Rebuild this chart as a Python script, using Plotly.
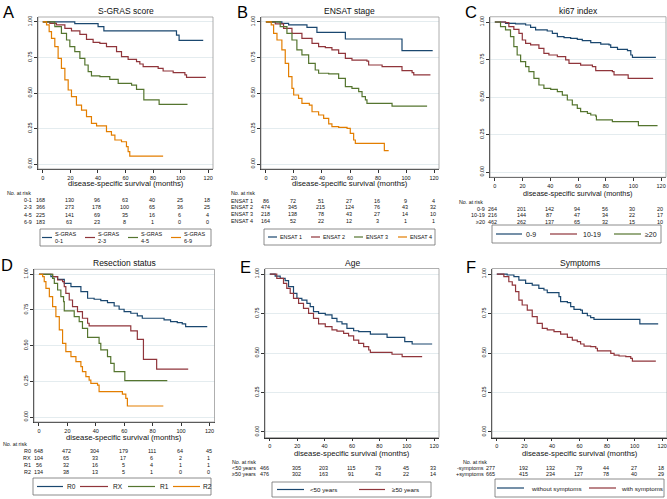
import plotly.graph_objects as go

W, H = 667, 499
FONT = 'Liberation Sans, Arial, sans-serif'
COLORS = ['#1a476f', '#90353b', '#55752f', '#e37e00']

months = [0, 20, 40, 60, 80, 100, 120]
surv_ticks = [0, 0.25, 0.5, 0.75, 1.0]
surv_ticktext = ['0.00', '0.25', '0.50', '0.75', '1.00']

# ---- A: S-GRAS score
a_01_t = [0, 23.2, 40.1, 44.3, 97.0, 98.9, 116.4]
a_01_s = [1.0, 0.988, 0.967, 0.937, 0.908, 0.871, 0.871]
a_23_t = [0, 5.1, 9.9, 16.0, 20.8, 26.9, 31.7, 36.5, 41.4, 46.2, 53.5, 57.1, 61.9, 68.0, 70.4, 72.8, 83.7, 87.3, 94.6, 103.1, 104.3, 118.3]
a_23_s = [1.0, 0.990, 0.979, 0.955, 0.937, 0.913, 0.878, 0.857, 0.850, 0.826, 0.791, 0.756, 0.737, 0.721, 0.704, 0.685, 0.674, 0.655, 0.643, 0.627, 0.610, 0.610]
a_45_t = [0, 8.7, 13.5, 17.2, 19.6, 23.2, 26.9, 30.5, 32.9, 35.3, 41.4, 48.6, 54.7, 64.4, 68.0, 73.3, 84.4, 105.0]
a_45_s = [1.0, 0.967, 0.920, 0.873, 0.826, 0.791, 0.744, 0.697, 0.650, 0.620, 0.615, 0.596, 0.568, 0.556, 0.526, 0.451, 0.420, 0.420]
a_69_t = [0, 2.7, 4.6, 6.3, 8.7, 11.1, 13.5, 16.0, 18.4, 20.8, 24.4, 28.1, 31.7, 35.3, 39.0, 46.2, 49.8, 52.3, 57.1, 60.7, 61.9, 63.1, 87.3]
a_69_s = [1.0, 0.979, 0.932, 0.885, 0.826, 0.744, 0.674, 0.592, 0.521, 0.474, 0.415, 0.380, 0.333, 0.286, 0.268, 0.228, 0.204, 0.169, 0.157, 0.122, 0.087, 0.056, 0.056]
a_labels = ['0-1', '2-3', '4-5', '6-9']
a_legend = ['S-GRAS<br>0-1', 'S-GRAS<br>2-3', 'S-GRAS<br>4-5', 'S-GRAS<br>6-9']
a_risk = [[168, 130, 96, 63, 40, 25, 18],
          [366, 273, 178, 100, 65, 36, 25],
          [225, 141, 69, 35, 16, 6, 4],
          [183, 63, 23, 8, 1, 0, 0]]

# ---- B: ENSAT stage
b_1_t = [0, 11.4, 16.2, 29.3, 36.4, 56.7, 97.1, 119.0]
b_1_s = [1.0, 0.990, 0.979, 0.962, 0.927, 0.880, 0.798, 0.798]
b_2_t = [0, 6.7, 12.6, 18.6, 25.7, 32.9, 37.6, 42.4, 47.1, 51.9, 56.7, 61.4, 72.1, 73.3, 82.9, 97.1, 104.3, 105.5, 117.4]
b_2_s = [1.0, 0.986, 0.955, 0.920, 0.885, 0.850, 0.826, 0.819, 0.803, 0.779, 0.744, 0.732, 0.725, 0.697, 0.685, 0.657, 0.643, 0.627, 0.627]
b_3_t = [0, 10.2, 15.0, 18.6, 22.1, 25.7, 30.5, 35.2, 37.6, 44.8, 51.9, 56.7, 61.4, 66.2, 68.6, 71.0, 72.1, 90.0, 115.0]
b_3_s = [1.0, 0.967, 0.920, 0.873, 0.803, 0.768, 0.709, 0.662, 0.639, 0.634, 0.603, 0.545, 0.533, 0.509, 0.474, 0.451, 0.427, 0.408, 0.408]
b_4_t = [0, 3.8, 5.5, 7.9, 11.4, 13.8, 16.2, 18.6, 19.8, 23.3, 25.7, 31.0, 32.9, 37.6, 41.2, 44.8, 47.1, 51.9, 57.9, 60.2, 62.6, 63.8, 84.5, 87.6]
b_4_s = [1.0, 0.979, 0.920, 0.873, 0.803, 0.709, 0.615, 0.533, 0.486, 0.462, 0.427, 0.415, 0.368, 0.345, 0.322, 0.282, 0.263, 0.258, 0.251, 0.216, 0.169, 0.145, 0.094, 0.094]
b_labels = ['ENSAT 1', 'ENSAT 2', 'ENSAT 3', 'ENSAT 4']
b_risk = [[86, 72, 51, 27, 16, 9, 4],
          [474, 345, 215, 124, 76, 43, 32],
          [218, 138, 78, 43, 27, 14, 10],
          [164, 52, 22, 12, 3, 1, 1]]

# ---- C: ki67 index
c_09_t = [0, 7.7, 14.9, 22.2, 25.8, 29.4, 37.8, 41.5, 45.1, 49.9, 54.7, 59.5, 63.1, 69.2, 76.4, 82.4, 83.6, 88.5, 95.7, 98.1, 99.3, 116.2]
c_09_s = [1.0, 0.991, 0.987, 0.980, 0.964, 0.947, 0.940, 0.924, 0.902, 0.896, 0.891, 0.884, 0.876, 0.862, 0.853, 0.847, 0.831, 0.818, 0.809, 0.780, 0.764, 0.764]
c_1019_t = [0, 7.7, 10.1, 13.7, 17.4, 19.8, 22.2, 25.8, 31.8, 35.4, 39.0, 45.1, 51.1, 53.5, 61.9, 70.4, 72.8, 84.8, 86.0, 96.2, 114.2]
c_1019_s = [1.0, 0.996, 0.969, 0.951, 0.924, 0.880, 0.858, 0.847, 0.824, 0.791, 0.780, 0.769, 0.747, 0.724, 0.713, 0.702, 0.676, 0.669, 0.647, 0.624, 0.624]
c_20_t = [0, 4.1, 7.7, 11.3, 13.7, 16.1, 18.6, 22.2, 24.6, 28.2, 31.8, 35.4, 40.3, 45.1, 48.7, 52.3, 55.9, 59.5, 61.9, 66.8, 69.2, 72.8, 73.3, 84.8, 103.6, 117.4]
c_20_s = [1.0, 0.969, 0.947, 0.902, 0.836, 0.780, 0.736, 0.702, 0.669, 0.624, 0.580, 0.558, 0.551, 0.536, 0.513, 0.480, 0.447, 0.424, 0.402, 0.391, 0.380, 0.373, 0.347, 0.336, 0.309, 0.309]
c_labels = ['0-9', '10-19', '≥20']
c_risk = [[264, 201, 142, 94, 56, 30, 20],
          [216, 144, 87, 47, 34, 22, 17],
          [462, 262, 137, 65, 32, 15, 10]]

# ---- D: Resection status
d_r0_t = [0, 8.4, 13.1, 17.8, 22.5, 29.5, 34.2, 38.8, 43.5, 48.2, 52.9, 56.4, 59.9, 64.6, 69.2, 72.7, 88.0, 92.6, 97.3, 100.8, 103.2, 118.4]
d_r0_s = [1.0, 0.984, 0.965, 0.937, 0.914, 0.879, 0.832, 0.825, 0.815, 0.801, 0.778, 0.755, 0.738, 0.727, 0.708, 0.692, 0.680, 0.668, 0.661, 0.652, 0.633, 0.633]
d_rx_t = [0, 9.6, 13.1, 16.6, 17.8, 18.9, 21.3, 23.6, 27.1, 30.6, 34.2, 35.3, 64.6, 69.2, 73.5, 82.8, 105.0]
d_rx_s = [1.0, 0.984, 0.960, 0.949, 0.914, 0.867, 0.820, 0.773, 0.738, 0.692, 0.657, 0.638, 0.603, 0.544, 0.404, 0.336, 0.336]
d_r1_t = [0, 9.6, 10.8, 13.1, 15.4, 17.3, 17.8, 24.8, 28.3, 30.6, 34.2, 42.3, 43.5, 48.2, 50.5, 52.9, 60.4, 90.3]
d_r1_s = [1.0, 0.972, 0.937, 0.890, 0.843, 0.808, 0.743, 0.703, 0.668, 0.621, 0.558, 0.516, 0.470, 0.423, 0.376, 0.318, 0.255, 0.255]
d_r2_t = [0, 2.6, 3.7, 4.9, 7.3, 9.6, 11.9, 14.3, 16.6, 18.9, 22.5, 26.0, 29.5, 30.6, 33.0, 35.3, 36.5, 41.2, 42.3, 58.7, 61.1, 62.2, 87.5]
d_r2_s = [1.0, 0.984, 0.949, 0.902, 0.843, 0.773, 0.703, 0.610, 0.516, 0.458, 0.423, 0.388, 0.353, 0.318, 0.283, 0.259, 0.236, 0.224, 0.178, 0.161, 0.131, 0.077, 0.077]
d_labels = ['R0', 'RX', 'R1', 'R2']
d_risk = [[648, 472, 304, 179, 111, 64, 45],
          [104, 65, 33, 17, 6, 2, 1],
          [56, 32, 16, 5, 4, 1, 1],
          [134, 38, 13, 5, 1, 0, 0]]

# ---- E: Age
e_lt50_t = [0, 3.9, 7.6, 11.2, 13.7, 17.3, 19.8, 23.4, 27.1, 29.5, 31.9, 35.6, 40.5, 45.4, 49.0, 52.7, 56.3, 61.2, 64.9, 73.4, 85.6, 98.5, 103.9, 118.5]
e_lt50_s = [1.0, 0.987, 0.973, 0.958, 0.920, 0.878, 0.846, 0.835, 0.814, 0.793, 0.762, 0.751, 0.741, 0.719, 0.698, 0.684, 0.656, 0.641, 0.635, 0.620, 0.599, 0.572, 0.557, 0.557]
e_ge50_t = [0, 5.1, 10.0, 12.4, 14.9, 17.3, 21.0, 24.6, 28.3, 31.9, 35.6, 40.5, 45.4, 49.0, 53.9, 57.5, 61.2, 64.9, 68.5, 72.2, 73.4, 89.2, 96.6, 111.2]
e_ge50_s = [1.0, 0.973, 0.941, 0.909, 0.878, 0.846, 0.814, 0.783, 0.751, 0.719, 0.684, 0.667, 0.646, 0.639, 0.624, 0.608, 0.582, 0.561, 0.540, 0.519, 0.504, 0.492, 0.477, 0.477]
e_labels = ['&lt;50 years', '≥50 years']
e_risk = [[466, 305, 203, 115, 79, 45, 33],
          [476, 302, 163, 91, 43, 22, 14]]

# ---- F: Symptoms
f_wo_t = [0, 7.5, 12.4, 16.0, 20.9, 25.7, 30.5, 34.2, 36.6, 45.1, 46.3, 51.2, 53.6, 56.0, 60.8, 62.1, 65.7, 68.1, 70.5, 103.8, 117.1]
f_wo_s = [1.0, 0.994, 0.983, 0.962, 0.941, 0.930, 0.909, 0.899, 0.882, 0.857, 0.825, 0.819, 0.793, 0.776, 0.772, 0.751, 0.736, 0.724, 0.713, 0.684, 0.684]
f_w_t = [0, 5.1, 8.7, 11.2, 13.6, 16.0, 18.4, 22.1, 25.7, 29.3, 33.0, 36.6, 41.5, 46.3, 51.2, 54.8, 58.4, 60.8, 63.3, 68.1, 71.8, 73.0, 82.7, 85.1, 88.7, 93.6, 97.2, 98.4, 115.4]
f_w_s = [1.0, 0.983, 0.951, 0.930, 0.888, 0.835, 0.804, 0.772, 0.730, 0.688, 0.656, 0.646, 0.635, 0.620, 0.599, 0.582, 0.572, 0.557, 0.544, 0.540, 0.530, 0.513, 0.498, 0.487, 0.481, 0.477, 0.466, 0.449, 0.449]
f_labels = ['-symptoms', '+symptoms']
f_legend = ['without symptoms', 'with symptoms']
f_risk = [[277, 192, 132, 79, 44, 27, 18],
          [665, 415, 234, 127, 78, 40, 29]]

# layout of each panel, in pixels
panels = [
    dict(letter='A', title='S-GRAS score', frame=(38, 17, 213, 169), letter_xy=(8, 12), title_y=11,
         curves=[(a_01_t, a_01_s), (a_23_t, a_23_s), (a_45_t, a_45_s), (a_69_t, a_69_s)],
         labels=a_labels, risk=a_risk, legend=a_legend, axtitle_y=184, axtitle_size=7.7,
         nrisk=(5, 193), rows_y=[200, 207, 214.5, 222], label_right=34, shift0=-2,
         box=(40, 229, 211, 246), items=[(42, 52, 54), (85, 95, 97), (128, 138, 140), (171, 181, 183)], legend_size=5.5),
    dict(letter='B', title='ENSAT stage', frame=(261, 17, 439, 169), letter_xy=(242, 12), title_y=11,
         curves=[(b_1_t, b_1_s), (b_2_t, b_2_s), (b_3_t, b_3_s), (b_4_t, b_4_s)],
         labels=b_labels, risk=b_risk, legend=b_labels, axtitle_y=184, axtitle_size=7.7,
         nrisk=(229, 193), rows_y=[200.5, 207, 214, 221.5], label_right=255, shift0=0,
         box=(264, 229, 435, 245), items=[(268, 277, 279), (311, 320, 322), (354, 363, 365), (398, 407, 409)], legend_size=5.4),
    dict(letter='C', title='ki67 index', frame=(490, 16.75, 666, 177.25), letter_xy=(471, 12), title_y=11,
         curves=[(c_09_t, c_09_s), (c_1019_t, c_1019_s), (c_20_t, c_20_s)],
         labels=c_labels, risk=c_risk, legend=c_labels, axtitle_y=193, axtitle_size=7.3,
         nrisk=(457, 202), rows_y=[208.5, 215, 222], label_right=487, shift0=-2,
         box=(492, 225, 661, 243), items=[(496, 522, 525), (550, 577, 582), (614, 641, 644)], legend_size=7),
    dict(letter='D', title='Resection status', frame=(34, 269.3, 214.5, 422), letter_xy=(7, 265), title_y=263,
         curves=[(d_r0_t, d_r0_s), (d_rx_t, d_rx_s), (d_r1_t, d_r1_s), (d_r2_t, d_r2_s)],
         labels=d_labels, risk=d_risk, legend=d_labels, axtitle_y=437, axtitle_size=7.7,
         nrisk=(1, 443.5), rows_y=[451, 457.5, 464.5, 471.5], label_right=33, shift0=0,
         box=(33, 478, 211, 495), items=[(37, 63, 66), (80, 108, 112), (128, 155, 159), (173, 200, 202)], legend_size=6.6),
    dict(letter='E', title='Age', frame=(265, 268.5, 439, 437.5), letter_xy=(245, 267), title_y=263,
         curves=[(e_lt50_t, e_lt50_s), (e_ge50_t, e_ge50_s)],
         labels=e_labels, risk=e_risk, legend=e_labels, axtitle_y=453, axtitle_size=7.7,
         nrisk=(230, 461.5), rows_y=[467.5, 473.5], label_right=258, shift0=-5,
         box=(272, 482, 431, 497), items=[(277, 304, 309), (359, 385, 391)], legend_size=6.2),
    dict(letter='F', title='Symptoms', frame=(492, 268.5, 667, 437.5), letter_xy=(471, 267), title_y=263,
         curves=[(f_wo_t, f_wo_s), (f_w_t, f_w_s)],
         labels=f_labels, risk=f_risk, legend=f_legend, axtitle_y=453, axtitle_size=7.7,
         nrisk=(461, 461.5), rows_y=[467.5, 473.5], label_right=486, shift0=-6,
         box=(495, 479, 664, 497), items=[(497, 524, 530), (589, 616, 620)], legend_size=6.2),
]


def px(x):
    return x / W


def py(y):
    return 1 - y / H


fig = go.Figure()
axes = {}
annotations = []
shapes = []
TXT = '#111111'
SMALL = 5.5

for i, p in enumerate(panels, start=1):
    xa = 'x' if i == 1 else f'x{i}'
    ya = 'y' if i == 1 else f'y{i}'
    x0, y0, x1, y1 = p['frame']
    axes['xaxis' if i == 1 else f'xaxis{i}'] = dict(
        domain=[px(x0), px(x1)], anchor=ya, range=[-3.5, 123.5],
        tickvals=months, ticks='outside', ticklen=3, tickwidth=0.8, tickcolor='#333',
        showline=True, linecolor='#333', linewidth=0.8, showgrid=False, zeroline=False,
        tickfont=dict(family=FONT, size=SMALL, color=TXT), fixedrange=True)
    axes['yaxis' if i == 1 else f'yaxis{i}'] = dict(
        domain=[py(y1), py(y0)], anchor=xa, range=[-0.035, 1.035],
        tickvals=surv_ticks, ticktext=surv_ticktext, tickangle=-90,
        ticks='outside', ticklen=3, tickwidth=0.8, tickcolor='#333',
        showline=True, linecolor='#333', linewidth=0.8,
        showgrid=True, gridcolor='#e4ecef', gridwidth=1, zeroline=False,
        tickfont=dict(family=FONT, size=SMALL, color=TXT), fixedrange=True)

    for (t, s), c in zip(p['curves'], COLORS):
        fig.add_trace(go.Scatter(x=t, y=s, mode='lines', xaxis=xa, yaxis=ya,
                                 line=dict(color=c, width=1.2, shape='hv'),
                                 showlegend=False, hoverinfo='skip'))

    # plot region frame
    shapes.append(dict(type='rect', xref=f'{xa} domain', yref=f'{ya} domain',
                       x0=0, x1=1, y0=0, y1=1, line=dict(color='#9a9a9a', width=0.8)))

    cx = (x0 + x1) / 2
    annotations.append(dict(text=p['title'], x=px(cx), y=py(p['title_y']), xref='paper', yref='paper',
                            showarrow=False, xanchor='center', yanchor='middle',
                            font=dict(family=FONT, size=8.5, color=TXT)))
    annotations.append(dict(text=p['letter'], x=px(p['letter_xy'][0]), y=py(p['letter_xy'][1]),
                            xref='paper', yref='paper', showarrow=False, xanchor='center', yanchor='middle',
                            font=dict(family=FONT, size=16.5, color='#000')))
    annotations.append(dict(text='disease-specific survival (months)', x=px(cx), y=py(p['axtitle_y']),
                            xref='paper', yref='paper', showarrow=False, xanchor='center', yanchor='middle',
                            font=dict(family=FONT, size=p['axtitle_size'], color=TXT)))

    # risk table
    annotations.append(dict(text='No. at risk', x=px(p['nrisk'][0]), y=py(p['nrisk'][1]),
                            xref='paper', yref='paper', showarrow=False, xanchor='left', yanchor='middle',
                            font=dict(family=FONT, size=5.3, color=TXT)))
    for lab, counts, ry in zip(p['labels'], p['risk'], p['rows_y']):
        annotations.append(dict(text=lab, x=px(p['label_right']), y=py(ry), xref='paper', yref='paper',
                                showarrow=False, xanchor='right', yanchor='middle',
                                font=dict(family=FONT, size=5.4, color=TXT)))
        for k, (m, n) in enumerate(zip(months, counts)):
            annotations.append(dict(text=str(n), x=m, y=py(ry), xref=xa, yref='paper',
                                    xshift=p['shift0'] if k == 0 else -1,
                                    showarrow=False, xanchor='center', yanchor='middle',
                                    font=dict(family=FONT, size=5.4, color=TXT)))

    # legend box
    bx0, by0, bx1, by1 = p['box']
    shapes.append(dict(type='rect', xref='paper', yref='paper', x0=px(bx0), x1=px(bx1),
                       y0=py(by1), y1=py(by0), line=dict(color='#6e6e6e', width=0.8)))
    ly = (by0 + by1) / 2
    for (l0, l1, tx), lab, c in zip(p['items'], p['legend'], COLORS):
        shapes.append(dict(type='line', xref='paper', yref='paper', x0=px(l0), x1=px(l1),
                           y0=py(ly), y1=py(ly), line=dict(color=c, width=1.2)))
        annotations.append(dict(text=lab, x=px(tx), y=py(ly), xref='paper', yref='paper',
                                showarrow=False, xanchor='left', yanchor='middle', align='left',
                                borderpad=0, font=dict(family=FONT, size=p['legend_size'], color=TXT)))

fig.update_layout(
    width=W, height=H, autosize=False,
    margin=dict(l=0, r=0, t=0, b=0),
    paper_bgcolor='white', plot_bgcolor='white',
    font=dict(family=FONT, color=TXT),
    showlegend=False,
    annotations=annotations, shapes=shapes,
    **axes)

# the page body has a default margin; drop it so the figure fills the window
fig.write_html("out.html", config={'displayModeBar': False},
               post_script="document.body.style.margin='0';")
